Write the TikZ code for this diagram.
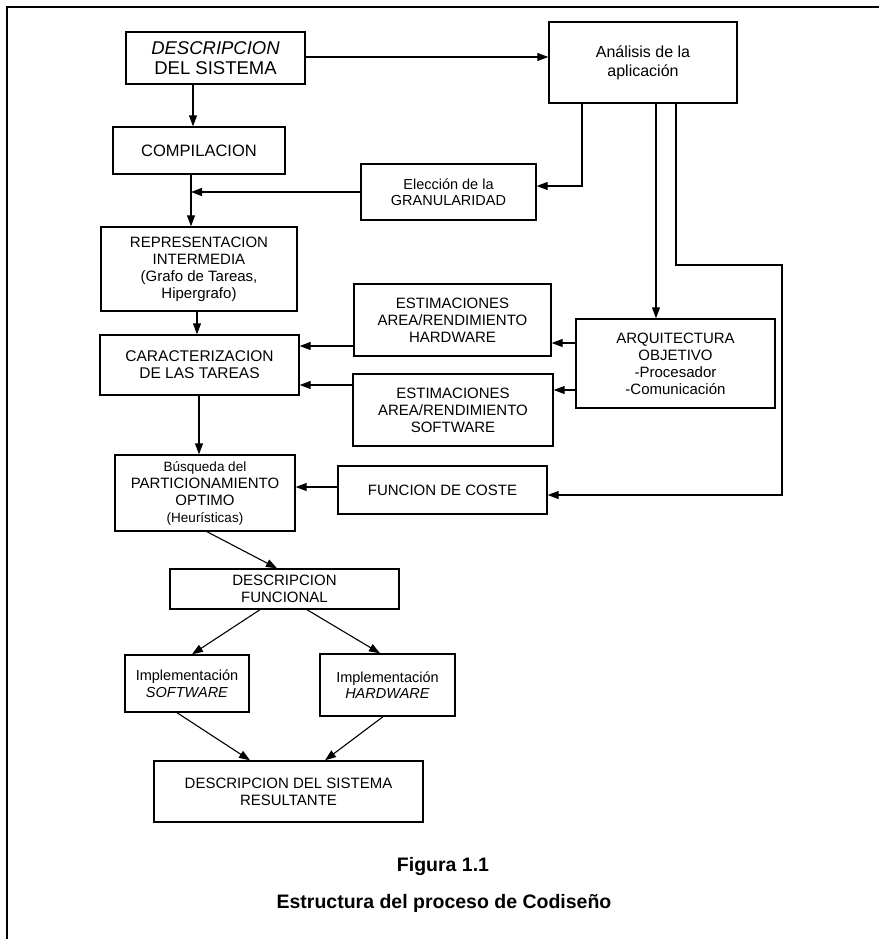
\documentclass[tikz,border=0pt]{standalone}
\usepackage{fontspec}
\setmainfont{Liberation Sans}
\usetikzlibrary{arrows.meta}
\begin{document}
\begin{tikzpicture}[x=1pt,y=-1pt,
  box/.style={draw, line width=1.4pt, inner sep=0pt, align=center,
    font=\fontsize{15}{17}\selectfont},
  arr/.style={draw, line width=1.1pt, -{Triangle[length=11pt,width=8pt]}},
  frameline/.style={draw, line width=1.8pt}]
\useasboundingbox (0,0) rectangle (882,940);
\fill[white] (0,0) rectangle (882,940);

% page frame (top and left rules)
\coordinate (ftl) at (7,7);
\coordinate (ftr) at (879,7);
\coordinate (fbl) at (7,939);
\draw[frameline] (ftr) -- (ftl) -- (fbl);

% boxes
\node[box, minimum width=179pt, minimum height=52pt, font=\fontsize{18.5}{19.5}\selectfont]
  (desc) at (215.5,58) {\itshape DESCRIPCION\\DEL SISTEMA};
\node[box, minimum width=188pt, minimum height=81pt, font=\fontsize{16}{19}\selectfont]
  (anal) at (643,62.5) {Análisis de la\\aplicación};
\node[box, minimum width=172pt, minimum height=47pt, font=\fontsize{16.5}{19}\selectfont]
  (comp) at (199,150.5) {COMPILACION};
\node[box, minimum width=175pt, minimum height=56pt, font=\fontsize{14.5}{16}\selectfont]
  (elec) at (448.5,192) {Elección de la\\GRANULARIDAD};
\node[box, minimum width=196pt, minimum height=84pt]
  (rep) at (199,269) {REPRESENTACION\\INTERMEDIA\\(Grafo de Tareas,\\Hipergrafo)};
\node[box, minimum width=199pt, minimum height=60pt, font=\fontsize{15.5}{17}\selectfont]
  (car) at (199.5,365) {CARACTERIZACION\\DE LAS TAREAS};
\node[box, minimum width=197pt, minimum height=72pt]
  (esthw) at (452.5,320) {ESTIMACIONES\\AREA/RENDIMIENTO\\HARDWARE};
\node[box, minimum width=200pt, minimum height=72pt]
  (estsw) at (453,410) {ESTIMACIONES\\AREA/RENDIMIENTO\\SOFTWARE};
\node[box, minimum width=199pt, minimum height=89pt]
  (arq) at (675.5,363.5) {ARQUITECTURA\\OBJETIVO\\-Procesador\\-Comunicación};
\node[box, minimum width=180pt, minimum height=76pt]
  (bus) at (205,493) {{\fontsize{13.5}{17}\selectfont Búsqueda del}\\PARTICIONAMIENTO\\OPTIMO\\{\fontsize{13.5}{17}\selectfont (Heurísticas)}};
\node[box, minimum width=209pt, minimum height=48pt]
  (fun) at (442.5,490) {FUNCION DE COSTE};
\node[box, minimum width=229pt, minimum height=40pt]
  (dfun) at (284.5,589) {DESCRIPCION\\FUNCIONAL};
\node[box, minimum width=124pt, minimum height=57pt, font=\fontsize{14.5}{16.5}\selectfont]
  (isw) at (187,683.5) {Implementación\\\textit{SOFTWARE}};
\node[box, minimum width=135pt, minimum height=62pt, font=\fontsize{14.5}{16.5}\selectfont]
  (ihw) at (387.5,685) {Implementación\\\textit{HARDWARE}};
\node[box, minimum width=269pt, minimum height=61pt]
  (res) at (288.5,791.5) {DESCRIPCION DEL SISTEMA\\RESULTANTE};

% caption
\node[anchor=base, font=\fontsize{19.5}{22}\selectfont\bfseries] (fig) at (443,871) {Figura 1.1};
\node[anchor=base, font=\fontsize{19.5}{22}\selectfont\bfseries] (cap) at (444,908) {Estructura del proceso de Codiseño};

% routing points
\coordinate (j) at (191,192);
\coordinate (a1) at (582,186);
\coordinate (r0) at (676,265);
\coordinate (r1) at (782,265);
\coordinate (r2) at (782,495);

% connectors
\draw[arr] (desc.east |- 0,57) -- (anal.west |- 0,57);
\draw[arr] (desc.south -| 193,0) -- (comp.north -| 193,0);
\draw[arr] (comp.south -| j) -- (rep.north -| j);
\draw[arr] (elec.west |- j) -- (j);
\draw[arr] (anal.south -| a1) -- (a1) -- (elec.east |- a1);
\draw[arr] (anal.south -| 656,0) -- (arq.north -| 656,0);
\draw[arr] (anal.south -| r0) -- (r0) -- (r1) -- (r2) -- (fun.east |- r2);
\draw[arr] (rep.south -| 197,0) -- (car.north -| 197,0);
\draw[arr] (esthw.west |- 0,346) -- (car.east |- 0,346);
\draw[arr] (estsw.west |- 0,385) -- (car.east |- 0,385);
\draw[arr] (arq.west |- 0,343) -- (esthw.east |- 0,343);
\draw[arr] (arq.west |- 0,390) -- (estsw.east |- 0,390);
\draw[arr] (car.south -| 199,0) -- (bus.north -| 199,0);
\draw[arr] (fun.west |- 0,487) -- (bus.east |- 0,487);
\draw[arr] (bus.south -| 207,0) -- (dfun.north -| 277,0);
\draw[arr] (dfun.south -| 260,0) -- (isw.north -| 192,0);
\draw[arr] (dfun.south -| 307,0) -- (ihw.north -| 380,0);
\draw[arr] (isw.south -| 177,0) -- (res.north -| 250,0);
\draw[arr] (ihw.south -| 383,0) -- (res.north -| 325,0);
\end{tikzpicture}
\end{document}
